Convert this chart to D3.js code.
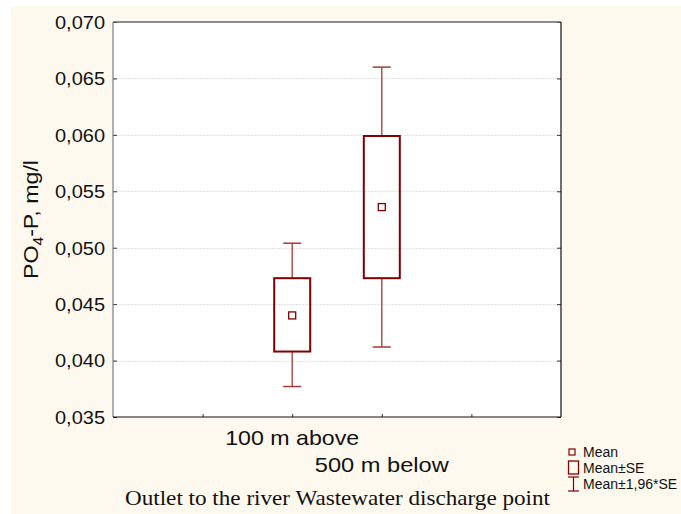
<!DOCTYPE html>
<html><head><meta charset="utf-8">
<script src="https://cdn.jsdelivr.net/npm/d3@7"></script>
<style>html,body{margin:0;padding:0;background:#fff}svg{display:block}</style>
</head><body>
<svg id="c" width="681" height="514"></svg>
<script>
const categories = ["100 m above", "500 m below"];
const catPos = [2, 3];
const means = [0.0440, 0.0536];
const seLow = [0.0408, 0.0473];
const seHigh = [0.0473, 0.0599];
const ciLow = [0.0377, 0.0412];
const ciHigh = [0.0504, 0.0660];
const yTicks = [0.035, 0.040, 0.045, 0.050, 0.055, 0.060, 0.065, 0.070];
const xTicks = [1, 2, 3, 4];
const legendLabels = ["Mean", "Mean±SE", "Mean±1,96*SE"];
const xTitle = "Outlet to the river Wastewater discharge point";

const svg = d3.select("#c");
const red = "#800000", whisk = "#a83838";
svg.append("rect").attr("x",11).attr("y",6).attr("width",670).attr("height",508).attr("fill","#fef9ef");

const L=113, R=561, T=22, B=417;
const x = d3.scaleLinear().domain([0,5]).range([L,R]);
const y = d3.scaleLinear().domain([0.035,0.070]).range([B,T]);

svg.append("rect").attr("x",L).attr("y",T).attr("width",R-L).attr("height",B-T).attr("fill","#fff");

// gridlines
svg.append("g").selectAll("line").data(yTicks.slice(1,-1)).join("line")
  .attr("x1",L).attr("x2",R).attr("y1",d=>Math.round(y(d))+0.5).attr("y2",d=>Math.round(y(d))+0.5)
  .attr("stroke","#e2e2e2").attr("stroke-dasharray","2,1");

const fmt = d => d3.format(".3f")(d).replace(".", ",");
const gl = svg.append("g").attr("transform",`translate(${L},0)`)
  .call(d3.axisRight(y).tickValues(yTicks).tickSize(4).tickFormat(""));
gl.select(".domain").remove();
gl.selectAll("line").attr("stroke","#333");
svg.append("g").selectAll("text").data(yTicks).join("text")
  .attr("x",L-8).attr("y",d=>y(d)).attr("dy","0.36em").attr("text-anchor","end")
  .attr("font-family","Liberation Sans, Arial, sans-serif").attr("font-size",19).attr("fill","#111")
  .attr("textLength",50).attr("lengthAdjust","spacingAndGlyphs")
  .text(fmt);
const gr = svg.append("g").attr("transform",`translate(${R},0)`)
  .call(d3.axisLeft(y).tickValues(yTicks).tickSize(4).tickFormat(""));
gr.select(".domain").remove();
gr.selectAll("line").attr("stroke","#333");
const gb = svg.append("g").attr("transform",`translate(0,${B})`)
  .call(d3.axisTop(x).tickValues(xTicks).tickSize(3).tickFormat(""));
gb.select(".domain").remove();
gb.selectAll("line").attr("stroke","#333");

// frame
svg.append("line").attr("x1",L).attr("x2",R).attr("y1",T).attr("y2",T).attr("stroke","#666").attr("stroke-width",1.5);
svg.append("line").attr("x1",L).attr("x2",L).attr("y1",T).attr("y2",B).attr("stroke","#666").attr("stroke-width",1);
svg.append("line").attr("x1",R).attr("x2",R).attr("y1",T).attr("y2",B).attr("stroke","#111").attr("stroke-width",1.2);
svg.append("line").attr("x1",L).attr("x2",R).attr("y1",B).attr("y2",B).attr("stroke","#111").attr("stroke-width",1.2);

// x category labels
const xl = svg.append("g").attr("font-family","Liberation Sans, Arial, sans-serif").attr("font-size",21).attr("fill","#111");
xl.selectAll("text").data(categories).join("text")
  .attr("x",(d,i)=>x(catPos[i])).attr("y",(d,i)=>445+i*27).attr("text-anchor","middle")
  .attr("textLength",134).attr("lengthAdjust","spacingAndGlyphs").text(d=>d);

// whiskers and boxes
const g = svg.append("g");
categories.forEach((c,i)=>{
  const cx = x(catPos[i]);
  g.append("line").attr("x1",cx).attr("x2",cx).attr("y1",y(ciHigh[i])).attr("y2",y(seHigh[i])).attr("stroke",whisk).attr("stroke-width",1.3);
  g.append("line").attr("x1",cx).attr("x2",cx).attr("y1",y(seLow[i])).attr("y2",y(ciLow[i])).attr("stroke",whisk).attr("stroke-width",1.3);
  [ciHigh[i],ciLow[i]].forEach(v=>g.append("line").attr("x1",cx-9).attr("x2",cx+9).attr("y1",y(v)).attr("y2",y(v)).attr("stroke",whisk).attr("stroke-width",1.5));
  g.append("rect").attr("x",cx-18).attr("y",y(seHigh[i])).attr("width",36).attr("height",y(seLow[i])-y(seHigh[i]))
    .attr("fill","none").attr("stroke",red).attr("stroke-width",2);
  g.append("rect").attr("x",cx-3.5).attr("y",y(means[i])-3.5).attr("width",7).attr("height",7)
    .attr("fill","#fff").attr("stroke",red).attr("stroke-width",1.3);
});

// y label
svg.append("text").attr("transform","translate(38,219.5) rotate(-90)")
  .attr("text-anchor","middle").attr("font-family","Liberation Sans, Arial, sans-serif").attr("font-size",21).attr("fill","#111")
  .attr("textLength",119).attr("lengthAdjust","spacingAndGlyphs")
  .call(t=>{ t.append("tspan").text("PO");
    t.append("tspan").attr("font-size",14).attr("dy",5).text("4");
    t.append("tspan").attr("dy",-5).text("-P, mg/l"); });

// title
svg.append("text").attr("x",337.5).attr("y",505).attr("text-anchor","middle")
  .attr("font-family","Liberation Serif, Times New Roman, serif").attr("font-size",21).attr("fill","#111")
  .attr("textLength",425).attr("lengthAdjust","spacingAndGlyphs").text(xTitle);

// legend
const lg = svg.append("g").attr("font-family","Liberation Sans, Arial, sans-serif").attr("font-size",14).attr("fill","#111");
const ly = [452, 468, 484];
lg.selectAll("text").data(legendLabels).join("text").attr("x",583).attr("y",(d,i)=>ly[i]).attr("dy","0.36em").text(d=>d);
lg.append("rect").attr("x",569).attr("y",ly[0]-3).attr("width",6).attr("height",6).attr("fill","none").attr("stroke",red).attr("stroke-width",1.2);
lg.append("rect").attr("x",568.5).attr("y",ly[1]-7).attr("width",10).attr("height",13).attr("fill","none").attr("stroke",red).attr("stroke-width",1.3);
lg.append("line").attr("x1",573.5).attr("x2",573.5).attr("y1",ly[2]-7).attr("y2",ly[2]+7).attr("stroke",red).attr("stroke-width",1.2);
lg.append("line").attr("x1",568).attr("x2",579).attr("y1",ly[2]-7).attr("y2",ly[2]-7).attr("stroke",red).attr("stroke-width",1.2);
lg.append("line").attr("x1",568).attr("x2",579).attr("y1",ly[2]+7).attr("y2",ly[2]+7).attr("stroke",red).attr("stroke-width",1.2);
</script>
</body></html>
